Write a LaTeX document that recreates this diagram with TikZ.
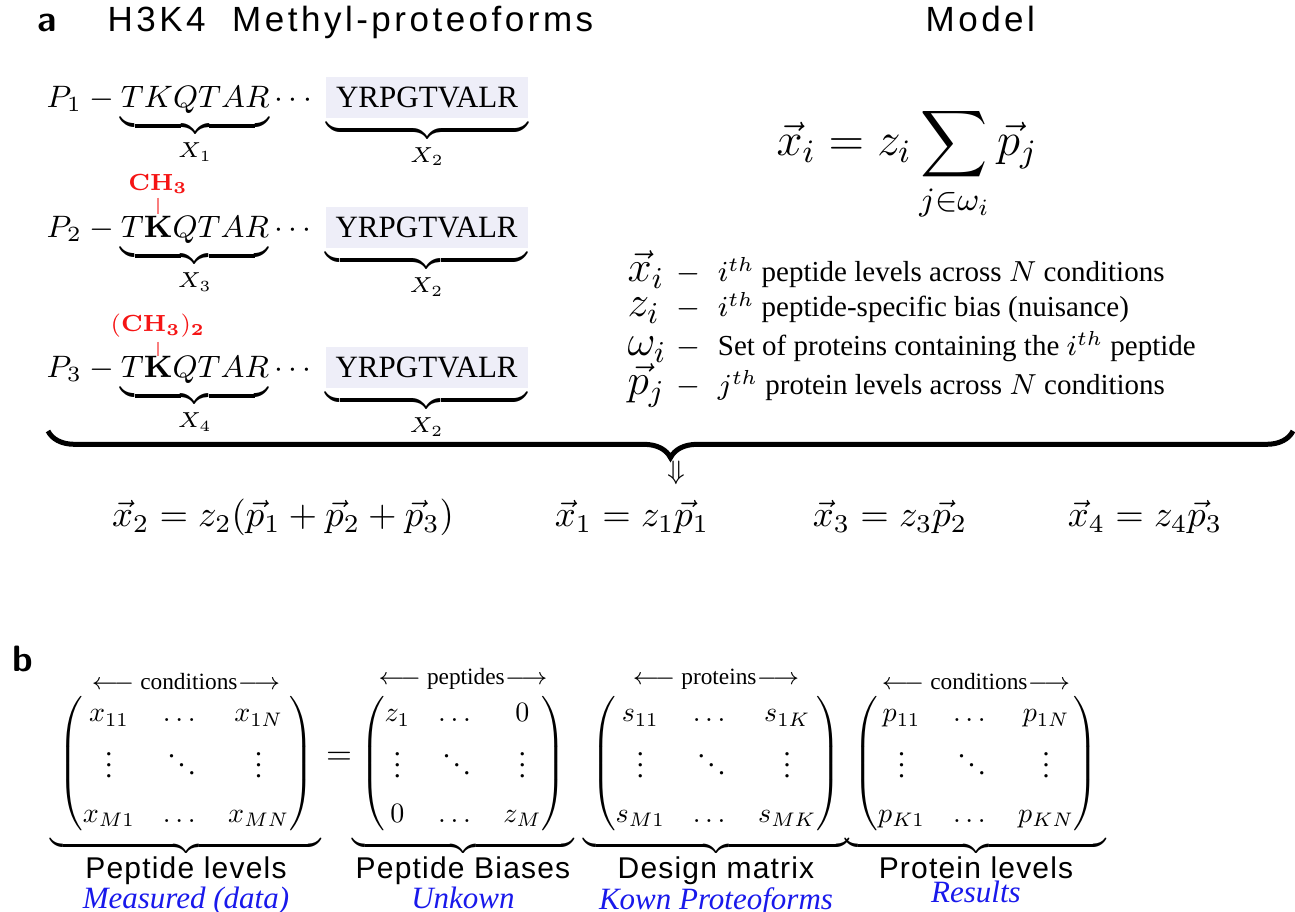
\RequirePackage{fix-cm}
\documentclass[tikz,border=0pt]{standalone}
\usepackage{amsmath,amssymb}
\usepackage[no-math]{fontspec}
\setmainfont{Liberation Serif}
\newfontfamily\headsf[LetterSpace=10]{Liberation Sans}
\newfontfamily\labsf[LetterSpace=4]{Liberation Sans}
\usepackage{xcolor}
\usetikzlibrary{positioning,decorations.pathreplacing}
\definecolor{seqbg}{RGB}{238,238,248}
\definecolor{modred}{RGB}{245,20,20}
\definecolor{noteblue}{RGB}{25,25,235}
\newcommand{\seqbox}[1]{\colorbox{seqbg}{#1}}

\begin{document}
\begin{tikzpicture}[x=30pt,y=30pt,
  head/.style={anchor=base west,inner sep=0pt,font=\headsf\fontsize{10.5}{13}\selectfont},
  tag/.style={anchor=base west,inner sep=0pt,font=\sffamily\bfseries\fontsize{11}{13}\selectfont},
  row/.style={anchor=base west,inner sep=0pt,font=\fontsize{9.3}{12}\selectfont},
  mod/.style={text=modred,inner sep=1pt,font=\fontsize{10}{12}\selectfont},
  modline/.style={modred!55,line width=0.5pt},
  sym/.style={anchor=base west,inner sep=0pt,font=\fontsize{13}{16}\selectfont},
  note/.style={anchor=base west,inner sep=0pt,font=\fontsize{8.7}{11}\selectfont},
  eqn/.style={anchor=base,font=\fontsize{11}{13}\selectfont},
  mat/.style={anchor=north,inner sep=0pt,scale=0.84,transform shape,font=\fontsize{10}{16}\selectfont},
  dir/.style={inner sep=0pt,font=\fontsize{10}{12}\selectfont},
  lab/.style={inner sep=0pt,font=\labsf\fontsize{9}{11}\selectfont},
  res/.style={inner sep=0pt,text=noteblue,font=\itshape\fontsize{9.3}{11}\selectfont}]
  \useasboundingbox (0,0) rectangle (12.95,9.11);
  % part a: proteoforms
  \node[tag] (ta) at (0.37,8.79) {a};
  \node[head] (title) at (1.07,8.79) {H3K4\hspace{4pt} Methyl-proteoforms};
  \node[head] (model) at (9.25,8.79) {Model};
  \node[row] (r1) at (0.46,8.03) {$P_1 - \underbrace{TKQTAR}_{X_1}\cdots\;\underbrace{\seqbox{YRPGTVALR}}_{X_2}$};
  \node[row] (r2) at (0.46,6.73) {$P_2 - \underbrace{T\mathbf{K}QTAR}_{X_3}\cdots\;\underbrace{\seqbox{YRPGTVALR}}_{X_2}$};
  \node[row] (r3) at (0.46,5.33) {$P_3 - \underbrace{T\mathbf{K}QTAR}_{X_4}\cdots\;\underbrace{\seqbox{YRPGTVALR}}_{X_2}$};
  \node[mod] (m2) at (1.58,7.27) {$\scriptstyle\mathbf{CH_3}$}; \coordinate (k2) at (1.58,6.97);
  \node[mod] (m3) at (1.58,5.85) {$\scriptstyle\mathbf{(CH_3)_2}$}; \coordinate (k3) at (1.58,5.55);
  \draw[modline] (m2.south) -- (k2); \draw[modline] (m3.south) -- (k3);
  % model
  \node[anchor=base,font=\fontsize{14}{17}\selectfont] (eq) at (9.07,7.55) {$\displaystyle\vec{x}_i = z_i\sum_{j\in\omega_i}\vec{p}_j$};
  \node[sym] (s1) at (6.27,6.29) {$\vec{x}_i$}; \node[note] (n1) at (6.76,6.29) {$-$\hspace{3pt} $i^{th}$ peptide levels across $N$ conditions};
  \node[sym] (s2) at (6.27,5.94) {$z_i$}; \node[note] (n2) at (6.76,5.94) {$-$\hspace{3pt} $i^{th}$ peptide-specific bias (nuisance)};
  \node[sym] (s3) at (6.27,5.55) {$\omega_i$}; \node[note] (n3) at (6.76,5.55) {$-$\hspace{3pt} Set of proteins containing the $i^{th}$ peptide};
  \node[sym] (s4) at (6.27,5.16) {$\vec{p}_j$}; \node[note] (n4) at (6.76,5.16) {$-$\hspace{3pt} $j^{th}$ protein levels across $N$ conditions};
  % big brace and result
  \coordinate (bl) at (0.48,4.80); \coordinate (br) at (12.93,4.80);
  \draw[line width=1.5pt,decorate,decoration={brace,mirror,amplitude=8pt}] (bl) -- (br);
  \node[font=\fontsize{8}{10}\selectfont] (dn) at (6.76,4.38) {$\Downarrow$};
  \node[eqn] (e2) at (2.83,3.84) {$\vec{x}_2 = z_2(\vec{p}_1+\vec{p}_2+\vec{p}_3)$};
  \node[eqn] (e1) at (6.32,3.84) {$\vec{x}_1 = z_1\vec{p}_1$};
  \node[eqn] (e3) at (8.90,3.84) {$\vec{x}_3 = z_3\vec{p}_2$};
  \node[eqn] (e4) at (11.45,3.84) {$\vec{x}_4 = z_4\vec{p}_3$};
  % part b: matrix form
  \node[tag] (tb) at (0.12,2.39) {b};
  \node[mat] (x) at (1.86,2.21) {$\underbrace{\;\begin{pmatrix} x_{11} & \dots & x_{1N}\\ \vdots & \ddots & \vdots\\ x_{M1} & \dots & x_{MN}\end{pmatrix}\;}$};
  \node[mat] (z) at (4.63,2.21) {$\underbrace{\;\begin{pmatrix} z_1 & \dots & 0\\ \vdots & \ddots & \vdots\\ 0 & \dots & z_M\end{pmatrix}\;}$};
  \node[mat] (s) at (7.16,2.21) {$\underbrace{\;\begin{pmatrix} s_{11} & \dots & s_{1K}\\ \vdots & \ddots & \vdots\\ s_{M1} & \dots & s_{MK}\end{pmatrix}\;}$};
  \node[mat] (p) at (9.76,2.21) {$\underbrace{\;\begin{pmatrix} p_{11} & \dots & p_{1N}\\ \vdots & \ddots & \vdots\\ p_{K1} & \dots & p_{KN}\end{pmatrix}\;}$};
  \node[font=\fontsize{10}{12}\selectfont] (eqs) at (3.39,1.53) {$=$};
  \node[dir,above=0pt of x] (dx) {$\scriptstyle\longleftarrow\text{ conditions}\longrightarrow$};
  \node[dir,above=0pt of z] (dz) {$\scriptstyle\longleftarrow\text{ peptides}\longrightarrow$};
  \node[dir,above=0pt of s] (ds) {$\scriptstyle\longleftarrow\text{ proteins}\longrightarrow$};
  \node[dir,above=0pt of p] (dp) {$\scriptstyle\longleftarrow\text{ conditions}\longrightarrow$};
  \node[lab,below=0pt of x] (lx) {Peptide levels}; \node[res,below=0.3pt of lx] (rx) {Measured (data)};
  \node[lab,below=0pt of z] (lz) {Peptide Biases}; \node[res,below=0.3pt of lz] (rz) {Unkown};
  \node[lab,below=0pt of s] (ls) {Design matrix}; \node[res,below=0.3pt of ls] (rs) {Kown Proteoforms};
  \node[lab,below=0pt of p] (lp) {Protein levels}; \node[res,below=0.3pt of lp] (rp) {Results};
\end{tikzpicture}
\end{document}
